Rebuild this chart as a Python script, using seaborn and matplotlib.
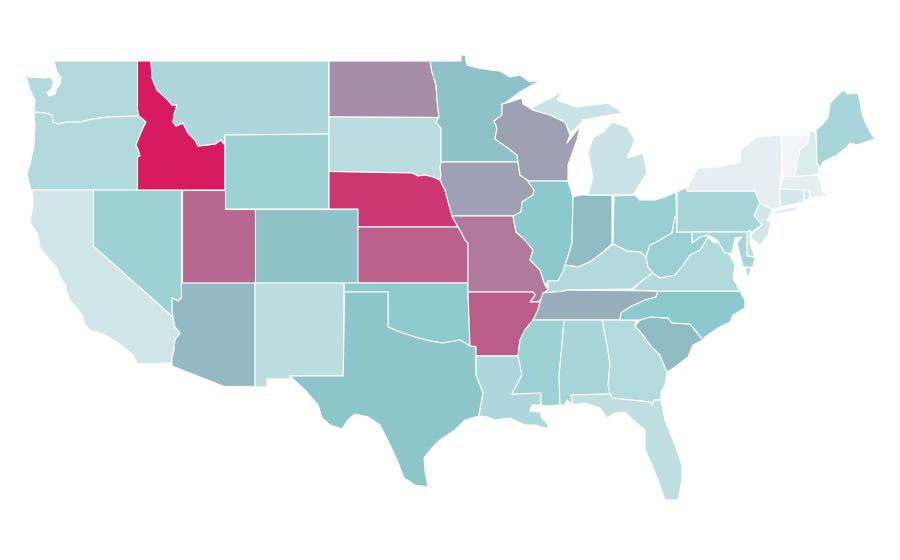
import matplotlib
matplotlib.use("Agg")
import matplotlib.pyplot as plt
import seaborn as sns

sns.set_theme(style="white")

# state scores (0 = palest, 100 = Idaho)
states = ["WA", "OR", "CA", "NV", "ID", "MT", "WY", "UT", "CO", "AZ", "NM", "ND", "SD", "NE", "KS",
          "OK", "TX", "MN", "IA", "MO", "AR", "LA", "WI", "IL", "IN", "MI", "OH", "KY", "TN", "MS",
          "AL", "GA", "FL", "SC", "NC", "VA", "WV", "PA", "NY", "VT", "NH", "ME", "MA", "CT", "RI",
          "NJ", "DE", "MD"]
scores = [32, 32, 17, 42, 100, 34, 42, 78, 52, 55, 27, 67, 27, 92, 80,
          49, 51, 52, 62, 73, 81, 34, 62, 50, 54, 20, 44, 32, 58, 42,
          37, 31, 25, 54, 50, 32, 43, 37, 7, 0, 11, 37, 7, 15, 15,
          17, 25, 37]

palette_stops = ["#f3f4f6", "#8ccacd", "#d81b60"]

# outlines
WA = [(54, 61), (137.5, 61), (137.5, 110), (139, 116), (108, 117), (93, 119), (80, 122), (68, 122), (58, 124),
      (53, 122), (52, 115), (45, 113), (36, 112), (34, 114), (35, 100), (31, 92), (25, 74), (29, 77), (45, 78),
      (50, 77), (54, 82), (51, 90), (47, 92), (49, 96), (55, 94), (57, 88), (60, 84), (61, 78), (57, 72)]
OR = [(34, 114), (36, 112), (45, 113), (52, 115), (53, 122), (58, 124), (68, 122), (80, 122), (93, 119), (108, 117),
      (139, 116), (146, 122), (143, 128), (140, 135), (136, 145), (138, 149), (140, 156), (137.5, 157), (137.5, 190),
      (31, 190), (27, 175), (31, 160), (34, 145), (35, 125)]
ID = [(137.5, 61), (151, 61), (152, 78), (157, 90), (168, 100), (172, 105), (177, 105), (174, 115), (173, 122),
      (176, 126), (183, 123), (188, 133), (195, 140), (198, 146), (215, 144), (221, 140), (225, 145), (225, 190),
      (137.5, 190), (137.5, 157), (140, 156), (138, 149), (136, 145), (140, 135), (143, 128), (146, 122), (139, 116),
      (137.5, 110)]
MT = [(151, 61), (329, 61), (329, 134), (225, 135), (225, 145), (221, 140), (215, 144), (198, 146), (195, 140),
      (188, 133), (183, 123), (176, 126), (173, 122), (174, 115), (177, 105), (172, 105), (168, 100), (157, 90),
      (152, 78)]
WY = [(225, 135), (329, 134), (329, 209), (225, 209)]
CO = [(255, 209), (358, 209), (358, 283), (255, 283)]
UT = [(181.5, 190), (225, 190), (225, 209), (255, 209), (255, 283), (181.5, 283)]
NV = [(93.5, 190), (181.5, 190), (181.5, 298), (178, 301), (172, 298), (172, 310), (173, 317), (93.5, 246)]
CA = [(32, 190), (93.5, 190), (93.5, 246), (173, 317), (175, 327), (180, 333), (175, 340), (174, 350), (172, 358),
      (172, 363), (137, 364), (133, 355), (127, 350), (118, 343), (105, 335), (90, 330), (85, 325), (82, 315),
      (70, 300), (66, 290), (66, 285), (60, 278), (57, 268), (50, 260), (40, 248), (38, 235), (30, 222), (33, 205)]
AZ = [(181.5, 283), (255, 283), (255, 386.5), (224, 386.5), (172, 366), (172, 358), (174, 350), (175, 340), (180, 333),
      (175, 327), (173, 317), (172, 310), (172, 298), (178, 301), (181.5, 298)]
NM = [(255, 283), (344, 283), (343.3, 376), (290, 376), (291, 379), (267, 379), (267, 387), (255, 387)]
TX = [(344.5, 292), (388, 292), (388, 327), (400, 332), (415, 337), (430, 341), (443, 343), (460, 340), (470, 346),
      (476, 346.5), (476, 375), (482, 390), (483, 393), (480, 410), (479, 416), (465, 420), (460, 425), (455, 430),
      (440, 440), (432, 448), (424, 458), (425, 470), (428, 487), (415, 485), (404, 478), (397, 460), (390, 445),
      (380, 425), (368, 417), (355, 414), (348, 420), (342, 429), (330, 425), (322, 418), (318, 405), (305, 390),
      (292, 378), (290, 376), (343.3, 376)]
OK = [(344, 283), (468, 283), (468, 292), (470, 346), (460, 340), (443, 343), (430, 341), (415, 337), (400, 332),
      (388, 327), (388, 292), (344.5, 292)]
KS = [(358, 227), (458, 227), (461, 232), (465, 240), (468, 243), (468, 283), (358, 283)]
NE = [(329, 171.5), (412, 173), (418, 176), (425, 175), (433, 177), (440, 180), (445, 190), (449, 205), (453, 218),
      (458, 227), (358, 227), (358, 209), (329, 209)]
SD = [(329, 117), (439, 117.5), (436, 122), (441, 128), (441, 162), (440, 167), (441, 176), (440, 180), (433, 177),
      (425, 175), (418, 176), (412, 173), (329, 171.5)]
ND = [(329, 61), (430, 61), (432, 72), (436, 85), (437, 100), (439, 117.5), (329, 117)]
MN = [(430, 61), (461, 61), (461, 55), (465, 55), (467, 65), (478, 68), (490, 70), (500, 71), (510, 77), (520, 75),
      (530, 82), (541, 80), (520, 92), (505, 103), (502, 104), (502, 115), (494, 121), (497, 128), (495, 139), (508, 148),
      (517, 155), (518, 162), (441, 162), (441, 128), (436, 122), (439, 117.5), (437, 100), (436, 85), (432, 72)]
IA = [(441, 162), (518, 162), (520, 175), (527, 180), (534, 190), (533, 195), (522, 202), (521, 212), (513, 216),
      (452, 216), (449, 205), (445, 190), (440, 180), (441, 176), (440, 167)]
MO = [(452, 216), (513, 216), (516, 232), (525, 240), (533, 250), (530, 260), (540, 270), (545, 285), (548, 290),
      (545, 295), (538, 302), (530, 302), (535, 295), (533, 292), (468, 292), (468, 243), (465, 240), (461, 232),
      (458, 227), (453, 218)]
AR = [(468, 292), (533, 292), (535, 295), (530, 302), (540, 302), (538, 310), (533, 320), (525, 330), (520, 340),
      (518, 356), (476, 356), (476, 346.5), (470, 346)]
LA = [(476, 356), (518, 356), (520, 365), (522, 375), (512, 394), (541, 393), (541, 405), (532, 405), (530, 411),
      (540, 412), (542, 418), (548, 424), (548, 429), (535, 425), (525, 425), (510, 418), (495, 420), (487, 417),
      (479, 416), (480, 410), (483, 393), (482, 390), (476, 375)]
MS = [(533, 320), (564, 320), (562, 345), (559, 375), (560, 405), (545, 406), (541, 405), (541, 393), (512, 394),
      (522, 375), (520, 365), (518, 356), (520, 340), (525, 330)]
AL = [(564, 320), (602, 320), (608, 350), (610, 365), (608, 385), (610, 394), (571, 395), (573, 405), (567, 400),
      (565, 405), (560, 405), (559, 375), (562, 345)]
GA = [(602, 320), (636, 320), (635, 326), (643, 335), (650, 345), (660, 355), (664, 365), (667, 372), (665, 385),
      (661, 392), (661, 400), (654, 400), (652, 405), (650, 402), (612, 398), (610, 394), (608, 385), (610, 365),
      (608, 350)]
FL = [(571, 395), (610, 394), (612, 398), (650, 402), (652, 405), (654, 400), (661, 400), (665, 420), (675, 445),
      (682, 465), (682, 480), (678, 500), (665, 500), (658, 480), (652, 465), (645, 450), (645, 430), (635, 422),
      (625, 412), (615, 413), (607, 418), (600, 408), (585, 403), (573, 405)]
SC = [(635, 326), (640, 320), (650, 317), (668, 318), (672, 323), (690, 324), (703, 340), (693, 345), (688, 357),
      (675, 367), (667, 372), (664, 365), (660, 355), (650, 345), (643, 335)]
NC = [(658, 291), (740, 291), (745, 300), (745, 308), (733, 315), (730, 322), (718, 328), (705, 337), (703, 340),
      (690, 324), (672, 323), (668, 318), (650, 317), (640, 320), (620, 320), (621, 313), (630, 307), (645, 300),
      (656, 297)]
TN = [(543, 293), (565, 291), (565, 290), (658, 291), (656, 297), (645, 300), (630, 307), (621, 313), (620, 320),
      (533, 320), (538, 310), (540, 302)]
KY = [(548, 281), (558, 281), (563, 272), (565, 265), (578, 267), (590, 262), (602, 253), (613, 244), (627, 251),
      (640, 252), (646, 257), (648, 267), (653, 273), (643, 280), (632, 289), (565, 290), (565, 291), (543, 293),
      (548, 290)]
VA = [(632, 290), (643, 280), (653, 273), (660, 278), (675, 275), (683, 265), (690, 255), (700, 250), (708, 237),
      (713, 242), (720, 243), (730, 255), (735, 265), (733, 278), (740, 291), (658, 291)]
VA_shore = [(745, 268), (752, 268), (748, 278)]
WV = [(646, 257), (650, 245), (655, 243), (672, 233), (675, 217), (676.5, 217), (676.5, 232), (692, 232), (692, 243),
      (700, 237), (708, 235), (708, 237), (700, 250), (690, 255), (683, 265), (675, 275), (660, 278), (653, 273),
      (648, 267)]
OH = [(614, 196), (635, 195), (640, 200), (655, 200), (665, 197), (676, 192), (676.5, 217), (675, 217), (672, 233),
      (655, 243), (650, 245), (646, 257), (640, 252), (627, 251), (613, 244)]
IN = [(573, 197), (580, 195), (612, 195), (612, 244), (602, 253), (590, 262), (578, 267), (565, 265), (570, 250),
      (572, 243)]
IL = [(528, 181), (568, 181), (573, 197), (572, 243), (570, 250), (565, 265), (563, 272), (558, 281), (548, 281),
      (545, 285), (540, 270), (530, 260), (533, 250), (525, 240), (516, 232), (513, 216), (521, 212), (522, 202),
      (533, 195), (534, 190), (527, 180)]
WI = [(502, 104), (510, 102), (522, 98), (523, 104), (533, 110), (550, 115), (565, 122), (570, 135), (567, 143),
      (577, 130), (580, 128), (577, 140), (568, 165), (568, 181), (528, 181), (527, 180), (520, 175), (518, 162),
      (517, 155), (508, 148), (495, 139), (497, 128), (494, 121), (502, 115)]
MI_upper = [(533, 107), (553, 97), (563, 90), (557, 100), (577, 107), (608, 103), (623, 113), (610, 115), (583, 120),
            (575, 130), (570, 132), (565, 122), (550, 115), (533, 110)]
MI_lower = [(588, 195), (593, 177), (588, 153), (593, 138), (603, 132), (612, 122), (627, 127), (635, 140), (627, 158),
            (643, 153), (647, 173), (633, 195)]
PA = [(677, 192), (687, 187), (687, 191), (755, 191), (760, 203), (754, 215), (762, 225), (752, 232), (677, 232)]
NY = [(687, 191), (687, 188), (698, 168), (718, 167), (740, 162), (740, 150), (757, 137), (781, 135), (782, 162),
      (780, 189), (780, 207), (773, 210), (760, 203), (755, 191)]
NY_long_island = [(773, 215), (776, 210), (800, 206), (795, 211)]
VT = [(782, 135), (809, 135), (808, 143), (800, 150), (797, 163), (795, 177), (783, 177), (782, 162)]
NH = [(811, 130), (816, 133), (817, 163), (820, 170), (818, 175), (795, 177), (797, 163), (800, 150), (808, 143),
      (809, 135)]
ME = [(816, 130), (822, 125), (828, 117), (830, 103), (840, 93), (843, 90), (848, 94), (858, 93), (863, 117), (870, 132),
      (875, 139), (857, 145), (850, 143), (847, 147), (837, 155), (823, 162), (820, 168), (817, 163)]
MA = [(783, 177), (818, 175), (823, 192), (830, 195), (815, 198), (810, 196), (809, 191), (804, 190), (780, 189)]
CT = [(780, 189), (804, 190), (804, 202), (780, 207)]
RI = [(804, 190), (809, 191), (810, 197), (804, 202)]
NJ = [(760, 203), (773, 210), (767, 220), (771, 222), (768, 235), (760, 245), (750, 237), (755, 230), (762, 225),
      (754, 215)]
DE = [(747, 232), (750, 230), (750, 243), (755, 257), (747, 256)]
MD = [(692, 232), (747, 232), (747, 256), (755, 257), (753, 267), (743, 267), (737, 243), (742, 237), (735, 238),
      (732, 253), (725, 253), (717, 240), (708, 235), (700, 237), (692, 243)]

outlines = {
    "WA": [WA], "OR": [OR], "CA": [CA], "NV": [NV], "ID": [ID], "MT": [MT], "WY": [WY], "UT": [UT], "CO": [CO],
    "AZ": [AZ], "NM": [NM], "ND": [ND], "SD": [SD], "NE": [NE], "KS": [KS], "OK": [OK], "TX": [TX], "MN": [MN],
    "IA": [IA], "MO": [MO], "AR": [AR], "LA": [LA], "WI": [WI], "IL": [IL], "IN": [IN], "MI": [MI_upper, MI_lower],
    "OH": [OH], "KY": [KY], "TN": [TN], "MS": [MS], "AL": [AL], "GA": [GA], "FL": [FL], "SC": [SC], "NC": [NC],
    "VA": [VA, VA_shore], "WV": [WV], "PA": [PA], "NY": [NY, NY_long_island], "VT": [VT], "NH": [NH], "ME": [ME],
    "MA": [MA], "CT": [CT], "RI": [RI], "NJ": [NJ], "DE": [DE], "MD": [MD],
}

cmap = sns.blend_palette(palette_stops, as_cmap=True)

fig, ax = plt.subplots(figsize=(9, 5.6), dpi=100)
fig.subplots_adjust(left=0, right=1, bottom=0, top=1)

for state, score in zip(states, scores):
    color = cmap(score / 100)
    for part in outlines[state]:
        xs, ys = zip(*part)
        ax.fill(xs, ys, facecolor=color, edgecolor="white", linewidth=0.8, joinstyle="round")

ax.set_xlim(0, 900)
ax.set_ylim(560, 0)
ax.axis("off")

fig.savefig("out.png", dpi=100, facecolor="white")
